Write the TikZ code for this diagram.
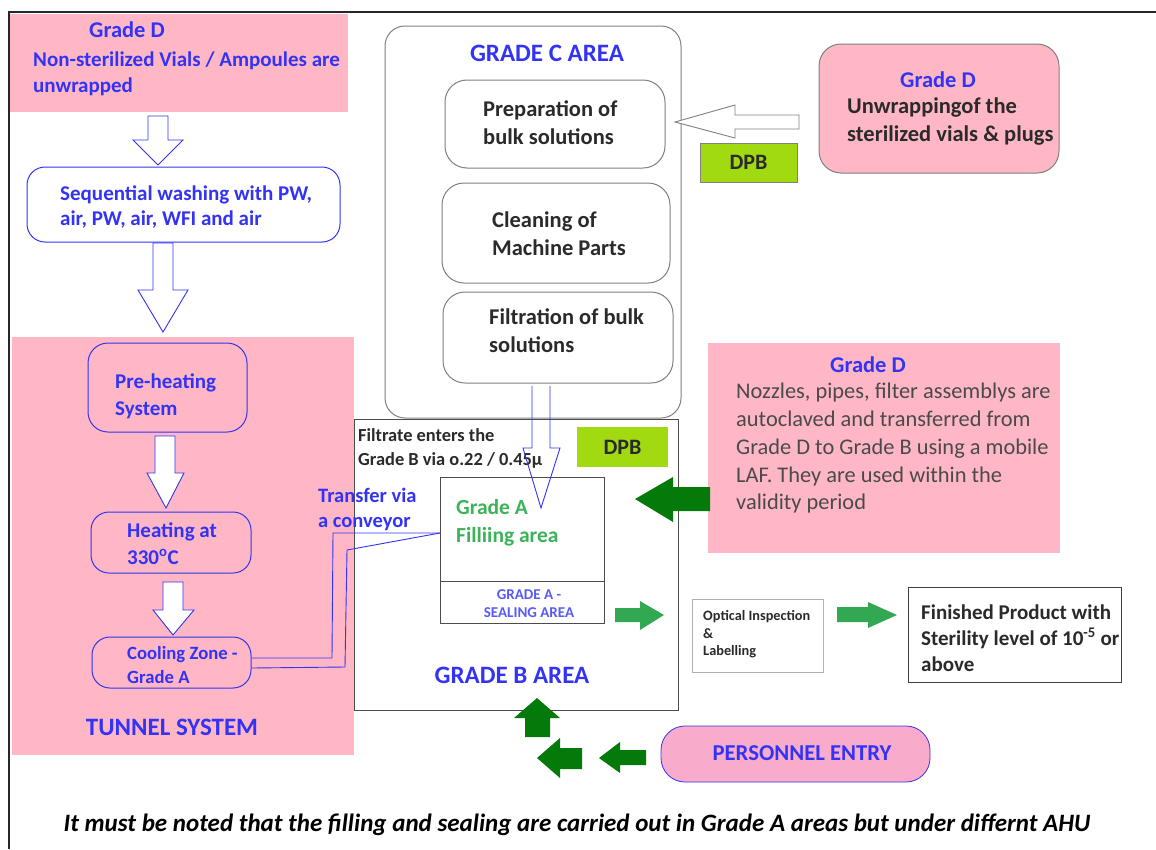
\documentclass[tikz,border=0pt]{standalone}
\usepackage{fontspec}
\setmainfont{Carlito}
\definecolor{pinkbg}{HTML}{FFB7C5}
\definecolor{tblue}{HTML}{3333F5}
\definecolor{tdark}{HTML}{2A2A2A}
\definecolor{tgray}{HTML}{4A4A4A}
\definecolor{agreen}{HTML}{3CB35A}
\definecolor{dgreen}{HTML}{047A0A}
\definecolor{lgreen}{HTML}{33A852}
\definecolor{dpbgreen}{HTML}{A2DA12}
\definecolor{boxgray}{HTML}{808080}
\definecolor{pepink}{HTML}{F9ABCB}
\definecolor{lblue}{HTML}{5A5AF5}
\tikzset{
  pinkarea/.style={fill=pinkbg, draw=none, inner sep=0pt},
  bluebox/.style={draw=tblue, line width=1pt, rounded corners=18pt, inner sep=0pt},
  graybox/.style={draw=boxgray, line width=1pt, rounded corners=20pt, inner sep=0pt},
  plainbox/.style={draw=black!70, line width=1pt, inner sep=0pt},
  dpbbox/.style={fill=dpbgreen, draw=boxgray, line width=0.6pt, inner sep=0pt},
  hollowblue/.style={draw=tblue, line width=0.9pt, fill=white},
  hollowgray/.style={draw=boxgray, line width=0.9pt, fill=white},
  darkarrow/.style={fill=dgreen, draw=none},
  lightarrow/.style={fill=lgreen, draw=none},
  conveyor/.style={draw=tblue, line width=0.9pt},
  tb/.style={inner sep=0pt, align=left, text=tblue, font=\bfseries\fontsize{21}{26}\selectfont},
  td/.style={inner sep=0pt, align=left, text=tdark, font=\bfseries\fontsize{22.5}{28}\selectfont},
  ttl/.style={inner sep=0pt, text=tblue, font=\bfseries\fontsize{25}{28}\selectfont},
  gd/.style={inner sep=0pt, text=tblue, font=\bfseries\fontsize{22.5}{26}\selectfont},
}
\begin{document}
\begin{tikzpicture}[x=1pt,y=-1pt]
\useasboundingbox (0,0) rectangle (1156,849);
\fill[white] (0,0) rectangle (1156,849);
\draw[line width=1.5pt, black!85] (9,849) -- (9,12) -- (1156,12);

% ---------- left column ----------
\node[pinkarea, minimum width=338pt, minimum height=98pt] (pinkTL) at (179,63) {};
\node[gd] (t1) at (127,30) {Grade D};
\node[tb, anchor=west] (t2) at (33,73.5) {Non-sterilized Vials / Ampoules are\\unwrapped};

\draw[hollowblue] (148,116) -- (168,116) -- (168,140) -- (183,140) -- (158,165) -- (133,140) -- (148,140) -- cycle;

\node[bluebox, minimum width=313pt, minimum height=75pt] (wash) at (183.5,204.5) {};
\node[tb, anchor=west, font=\bfseries\fontsize{21}{25}\selectfont] (washt) at (60,207.5) {Sequential washing with PW,\\air, PW, air, WFI and air};

\draw[hollowblue] (153,243) -- (173,243) -- (173,290) -- (188,290) -- (163,332) -- (138,290) -- (153,290) -- cycle;

\node[pinkarea, minimum width=342pt, minimum height=418pt] (tunnel) at (183,546) {};
\node[bluebox, rounded corners=20pt, minimum width=159pt, minimum height=89pt] (preheat) at (167.5,387.5) {};
\node[tb, anchor=west, font=\bfseries\fontsize{21}{27}\selectfont] (preht) at (115,396.5) {Pre-heating\\System};
\draw[hollowblue] (155,436) -- (175,436) -- (175,473) -- (184,473) -- (166,508) -- (147,473) -- (155,473) -- cycle;
\node[bluebox, minimum width=160pt, minimum height=61pt] (heat) at (171,542.5) {};
\node[tb, anchor=west, font=\bfseries\fontsize{21}{27}\selectfont] (heatt) at (127,543.5) {Heating at\\330\textsuperscript{o}C};
\draw[hollowblue] (163,582) -- (183,582) -- (183,610) -- (194,610) -- (173,635) -- (153,610) -- (163,610) -- cycle;
\node[bluebox, minimum width=159pt, minimum height=51pt] (cool) at (171.5,662.5) {};
\node[tb, anchor=west, font=\bfseries\fontsize{18.7}{24}\selectfont] (coolt) at (127,665) {Cooling Zone -\\Grade A};
\node[ttl] (tunt) at (172,727) {TUNNEL SYSTEM};

% ---------- Grade C ----------
\node[graybox, minimum width=296pt, minimum height=392pt] (gradeC) at (533,222) {};
\node[ttl] (gct) at (547,53) {GRADE C AREA};
\node[graybox, rounded corners=22pt, minimum width=220pt, minimum height=88pt] (prep) at (555,124) {};
\node[td, anchor=west] (prept) at (483,122.5) {Preparation of\\bulk solutions};
\node[graybox, rounded corners=22pt, minimum width=228pt, minimum height=100pt] (clean) at (556,233) {};
\node[td, anchor=west] (cleant) at (492,234) {Cleaning of\\Machine Parts};
\node[graybox, rounded corners=22pt, minimum width=230pt, minimum height=91pt] (filt) at (558,337.5) {};
\node[td, anchor=west] (filtt) at (489,331) {Filtration of bulk\\solutions};

% ---------- Grade B ----------
\node[plainbox, minimum width=324pt, minimum height=291pt] (gradeB) at (516,564.5) {};
\node[td, anchor=west, font=\bfseries\fontsize{18.4}{24}\selectfont] (filtrate) at (358,448) {Filtrate enters the\\Grade B via o.22 / 0.45µ};
\node[dpbbox, draw=none, minimum width=91pt, minimum height=40pt] (dpb2) at (622.5,447) {};
\node[td, font=\bfseries\fontsize{22}{26}\selectfont] (dpb2t) at (622.5,447) {DPB};
\node[plainbox, minimum width=164pt, minimum height=146pt] (fill) at (522,550) {};
\draw[black!70, line width=1pt] (fill.west |- 0,581) -- (fill.east |- 0,581);
\node[td, text=agreen, font=\bfseries\fontsize{21.5}{28}\selectfont] (fillt) at (456,523) [anchor=west] {Grade A\\Filliing area};
\node[inner sep=0pt, align=center, text=lblue, font=\bfseries\fontsize{15}{18}\selectfont] (sealt) at (529,604) {GRADE A -\\SEALING AREA};
\node[ttl] (gbt) at (512,675) {GRADE B AREA};

\draw[hollowblue, fill=none] (532,386) -- (532,448) -- (523,448) -- (541,508) -- (560,448) -- (550,448) -- (550,386);

% conveyor
\coordinate (cv1) at (440,533);
\draw[conveyor] (cool.east |- 0,658) -- (332,658) -- (333,533) -- (cv1);
\draw[conveyor] (cool.east |- 0,668) -- (345,667) -- (347,550) -- (cv1);
\node[tb, anchor=west, font=\bfseries\fontsize{20.5}{25}\selectfont] (convt) at (318,509.5) {Transfer via\\a conveyor};

% ---------- right side ----------
\node[graybox, fill=pinkbg, rounded corners=22pt, minimum width=240pt, minimum height=129pt] (unwrap) at (939,108.5) {};
\node[gd] (uwt1) at (938,80) {Grade D};
\node[td, anchor=west] (uwt2) at (847,122) {Unwrappingof the\\sterilized vials \& plugs};
\draw[hollowgray] (675,122) -- (735,105) -- (735,115) -- (799,115) -- (799,129) -- (735,129) -- (735,138) -- cycle;
\node[dpbbox, minimum width=97pt, minimum height=39pt] (dpb1) at (748.5,162.5) {};
\node[td, font=\bfseries\fontsize{22}{26}\selectfont] (dpb1t) at (748.5,162.5) {DPB};

\node[pinkarea, minimum width=352pt, minimum height=210pt] (nozzle) at (884,448) {};
\node[gd] (nzt1) at (868,365) {Grade D};
\node[inner sep=0pt, align=left, text=tgray, font=\fontsize{22.4}{27.75}\selectfont, anchor=west] (nzt2) at (736,448.5) {Nozzles, pipes, filter assemblys are\\autoclaved and transferred from\\Grade D to Grade B using a mobile\\LAF. They are used within the\\validity period};
\fill[darkarrow] (635,499) -- (673,477) -- (673,487) -- (710,487) -- (710,511) -- (673,511) -- (673,522) -- cycle;

\fill[lightarrow] (615,608) -- (640,608) -- (640,601) -- (664,615) -- (640,630) -- (640,622) -- (615,622) -- cycle;
\node[plainbox, draw=black!30, minimum width=131pt, minimum height=73pt] (optical) at (757.5,635.5) {};
\node[td, anchor=west, font=\bfseries\fontsize{14.3}{17.5}\selectfont] (optt) at (703,634.5) {Optical Inspection\\\&\\Labelling};
\fill[lightarrow] (837,607) -- (868,607) -- (868,602) -- (897,615) -- (868,628) -- (868,622) -- (837,622) -- cycle;
\node[plainbox, draw=black!75, minimum width=213pt, minimum height=95pt] (finished) at (1014.5,634.5) {};
\node[td, anchor=west, font=\bfseries\fontsize{21}{26}\selectfont] (fint) at (921,638) {Finished Product with\\Sterility level of 10\textsuperscript{-5} or\\above};

% ---------- personnel ----------
\fill[darkarrow] (537,698) -- (560,718) -- (550,718) -- (550,737) -- (525,737) -- (525,718) -- (514,718) -- cycle;
\fill[darkarrow] (537,758) -- (560,738) -- (560,748) -- (582,748) -- (582,769) -- (560,769) -- (560,778) -- cycle;
\fill[darkarrow] (599,758) -- (620,742) -- (620,750) -- (646,750) -- (646,765) -- (620,765) -- (620,773) -- cycle;
\node[draw=tblue, fill=pepink, line width=0.8pt, rounded corners=24pt, minimum width=269pt, minimum height=56pt, inner sep=0pt] (personnel) at (795.5,754) {};
\node[ttl, font=\bfseries\fontsize{22.7}{26}\selectfont] (pert) at (802,753) {PERSONNEL ENTRY};

% ---------- footnote ----------
\node[inner sep=0pt, text=black, font=\bfseries\itshape\fontsize{25}{28}\selectfont] (note) at (577,825) {It must be noted that the filling and sealing are carried out in Grade A areas but under differnt AHU};
\end{tikzpicture}
\end{document}
